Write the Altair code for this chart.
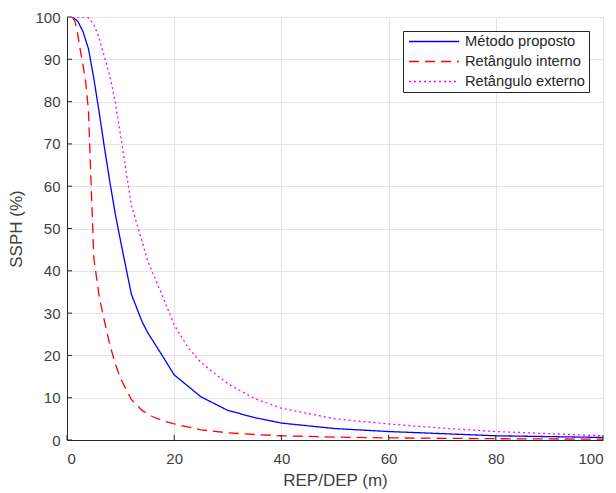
import altair as alt
import pandas as pd

series_names = ["Método proposto", "Retângulo interno", "Retângulo externo"]
series_colors = ["#0000ff", "#ff0000", "#ff00ff"]
series_dashes = [[1, 0], [10, 6], [2, 3]]

x_metodo = [1, 2, 3, 4, 5, 6, 7, 8, 9, 10, 12, 14, 15, 17.5, 20, 25, 30, 35, 40, 50, 60, 70, 80, 90, 100]
y_metodo = [100, 99, 96.5, 92.5, 85.5, 77.5, 69, 61, 53.5, 47, 34.5, 28, 25.5, 20.5, 15.4, 10.2, 7, 5.3, 4.0, 2.7, 2.0, 1.5, 1.0, 0.8, 0.6]

x_interno = [1, 1.5, 2, 2.5, 3, 3.5, 4, 5, 6, 7, 8, 9, 10, 12, 14, 16, 18, 20, 25, 30, 35, 40, 50, 60, 70, 80, 90, 100]
y_interno = [100, 98.9, 96, 92, 88.5, 84.5, 78, 43, 34, 28, 22.5, 18, 14.5, 9.6, 7, 5.5, 4.5, 3.8, 2.4, 1.7, 1.3, 1.0, 0.7, 0.5, 0.4, 0.3, 0.25, 0.2]

x_externo = [1, 2, 3, 4, 5, 6, 7, 8, 9, 10, 12, 14, 15, 17.5, 20, 22.5, 25, 30, 35, 40, 50, 60, 70, 80, 90, 100]
y_externo = [100, 100, 100, 99.8, 98.3, 95, 90.5, 86, 80, 72, 55.5, 47, 42.5, 35, 27.2, 22, 18.3, 13.3, 9.8, 7.5, 5.0, 3.8, 2.8, 2.0, 1.5, 1.0]

x_ticks = [0, 20, 40, 60, 80, 100]
y_ticks = [0, 10, 20, 30, 40, 50, 60, 70, 80, 90, 100]

rows = []
for name, xs, ys in [(series_names[0], x_metodo, y_metodo),
                     (series_names[1], x_interno, y_interno),
                     (series_names[2], x_externo, y_externo)]:
    rows += [{"x": a, "y": b, "serie": name} for a, b in zip(xs, ys)]
df = pd.DataFrame(rows)

W, H = 536, 423
text_color = "#404040"
font = "Liberation Sans"

xscale = alt.Scale(domain=[0, 100], nice=False)
yscale = alt.Scale(domain=[0, 100], nice=False)

leg = alt.Legend(
    title=None, orient="none", legendX=336, legendY=14,
    symbolType="stroke", symbolSize=2500, symbolStrokeWidth=1.3,
    symbolOffset=2, clipHeight=15,
    labelFontSize=14.7, labelFont=font, labelColor="#262626",
    strokeColor="#262626", fillColor="white", padding=3,
    rowPadding=4, labelOffset=5,
)

lines = alt.Chart(df).mark_line(strokeWidth=1.3, clip=True).encode(
    x=alt.X("x:Q", scale=xscale,
            axis=alt.Axis(values=x_ticks, title="REP/DEP (m)", grid=True,
                          tickSize=0, labelPadding=11, titlePadding=6)),
    y=alt.Y("y:Q", scale=yscale,
            axis=alt.Axis(values=y_ticks, title="SSPH (%)", grid=True,
                          tickSize=0, labelPadding=7, titlePadding=9)),
    color=alt.Color("serie:N", scale=alt.Scale(domain=series_names, range=series_colors),
                    sort=series_names, legend=leg),
    strokeDash=alt.StrokeDash("serie:N", scale=alt.Scale(domain=series_names, range=series_dashes),
                              sort=series_names, legend=leg),
)

xt = alt.Chart(pd.DataFrame({"v": x_ticks})).mark_rule(color="#262626", strokeWidth=1).encode(
    x=alt.X("v:Q", scale=xscale), y=alt.value(H), y2=alt.value(H - 5))
yt = alt.Chart(pd.DataFrame({"v": y_ticks})).mark_rule(color="#262626", strokeWidth=1).encode(
    y=alt.Y("v:Q", scale=yscale), x=alt.value(0), x2=alt.value(5))

chart = alt.layer(lines, xt, yt).properties(
    width=W, height=H,
    autosize=alt.AutoSizeParams(type="none"),
    padding={"left": 59, "top": 9, "right": 5, "bottom": 53},
).configure_view(stroke="#dcdcdc", strokeWidth=1).configure_axis(
    labelFont=font, titleFont=font, labelFontSize=15, titleFontSize=17,
    labelColor=text_color, titleColor=text_color, titleFontWeight="normal",
    domainColor="#262626", domainWidth=1, gridColor="#e3e3e3", gridWidth=1,
).configure_legend(symbolStrokeWidth=1.3)

chart.save("out.html", embed_options={"renderer": "svg", "actions": False})
